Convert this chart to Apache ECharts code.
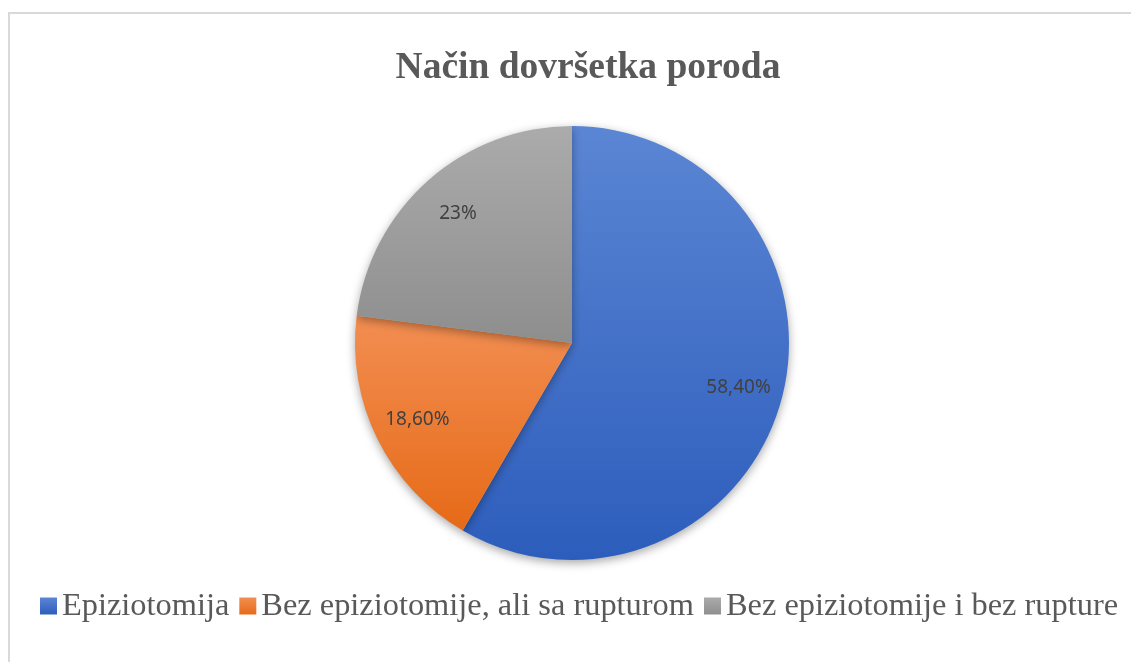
<!DOCTYPE html>
<html>
<head>
<meta charset="utf-8">
<script src="https://cdn.jsdelivr.net/npm/echarts@6/dist/echarts.min.js"></script>
<style>
    html, body { margin: 0; padding: 0; background: #fff; overflow: hidden; }
    #frame { position: absolute; left: 8px; top: 12px; width: 1200px; height: 700px; border: 2px solid #d9d9d9; box-sizing: border-box; }
    #chart { position: absolute; left: 0; top: 0; width: 1131px; height: 662px; }
</style>
</head>
<body>
<div id="frame"></div>
<div id="chart"></div>
<script>
// podaci
const categories = ["Epiziotomija", "Bez epiziotomije, ali sa rupturom", "Bez epiziotomije i bez rupture"]
const values = [58.4, 18.6, 23]
const valueLabels = ["58,40%", "18,60%", "23%"]
const topColors = ["#5b86d4", "#f28e52", "#ababab"]
const bottomColors = ["#2d5dbc", "#e66a17", "#8e8e8e"]

const grad = (i) => new echarts.graphic.LinearGradient(0, 0, 0, 1, [
    { offset: 0, color: topColors[i] },
    { offset: 1, color: bottomColors[i] }
])

const pieData = categories.map((name, i) => ({
    name: name,
    value: values[i],
    itemStyle: { color: grad(i) }
}))

// prsten samo za natpise (prozirni)
const labelData = categories.map((name, i) => ({ name: name, value: values[i] }))

const chart = echarts.init(document.getElementById('chart'), null, { renderer: 'canvas' })

const option = {
    animation: false,
    title: {
        text: "Način dovršetka poroda",
        left: 583,
        top: 44,
        textAlign: 'center',
        textStyle: {
            fontFamily: "Liberation Serif",
            fontWeight: 'bold',
            fontSize: 37.5,
            color: '#595959'
        }
    },
    legend: {
        data: categories,
        left: 35,
        top: 585,
        icon: 'rect',
        itemWidth: 17,
        itemHeight: 17,
        itemGap: 10,
        textStyle: {
            fontFamily: "Liberation Serif",
            fontSize: 32.4,
            color: '#595959',
            padding: [0, 0, 0, 0]
        }
    },
    series: [{
        type: 'pie',
        center: [572, 343],
        radius: [0, 217],
        startAngle: 90,
        clockwise: true,
        data: pieData,
        label: { show: false },
        labelLine: { show: false },
        itemStyle: {
            borderWidth: 0,
            shadowBlur: 10,
            shadowOffsetY: 3,
            shadowColor: 'rgba(0,0,0,0.35)'
        },
        emphasis: { disabled: true }
    }, {
        type: 'pie',
        center: [572, 343],
        radius: [122, 217],
        startAngle: 90,
        clockwise: true,
        silent: true,
        data: labelData,
        itemStyle: { color: 'rgba(0,0,0,0)' },
        label: {
            show: true,
            position: 'inside',
            formatter: (p) => valueLabels[p.dataIndex],
            fontFamily: "Noto Sans",
            fontSize: 19,
            color: '#404040'
        },
        labelLine: { show: false },
        emphasis: { disabled: true }
    }]
}

chart.setOption(option)
</script>
</body>
</html>
